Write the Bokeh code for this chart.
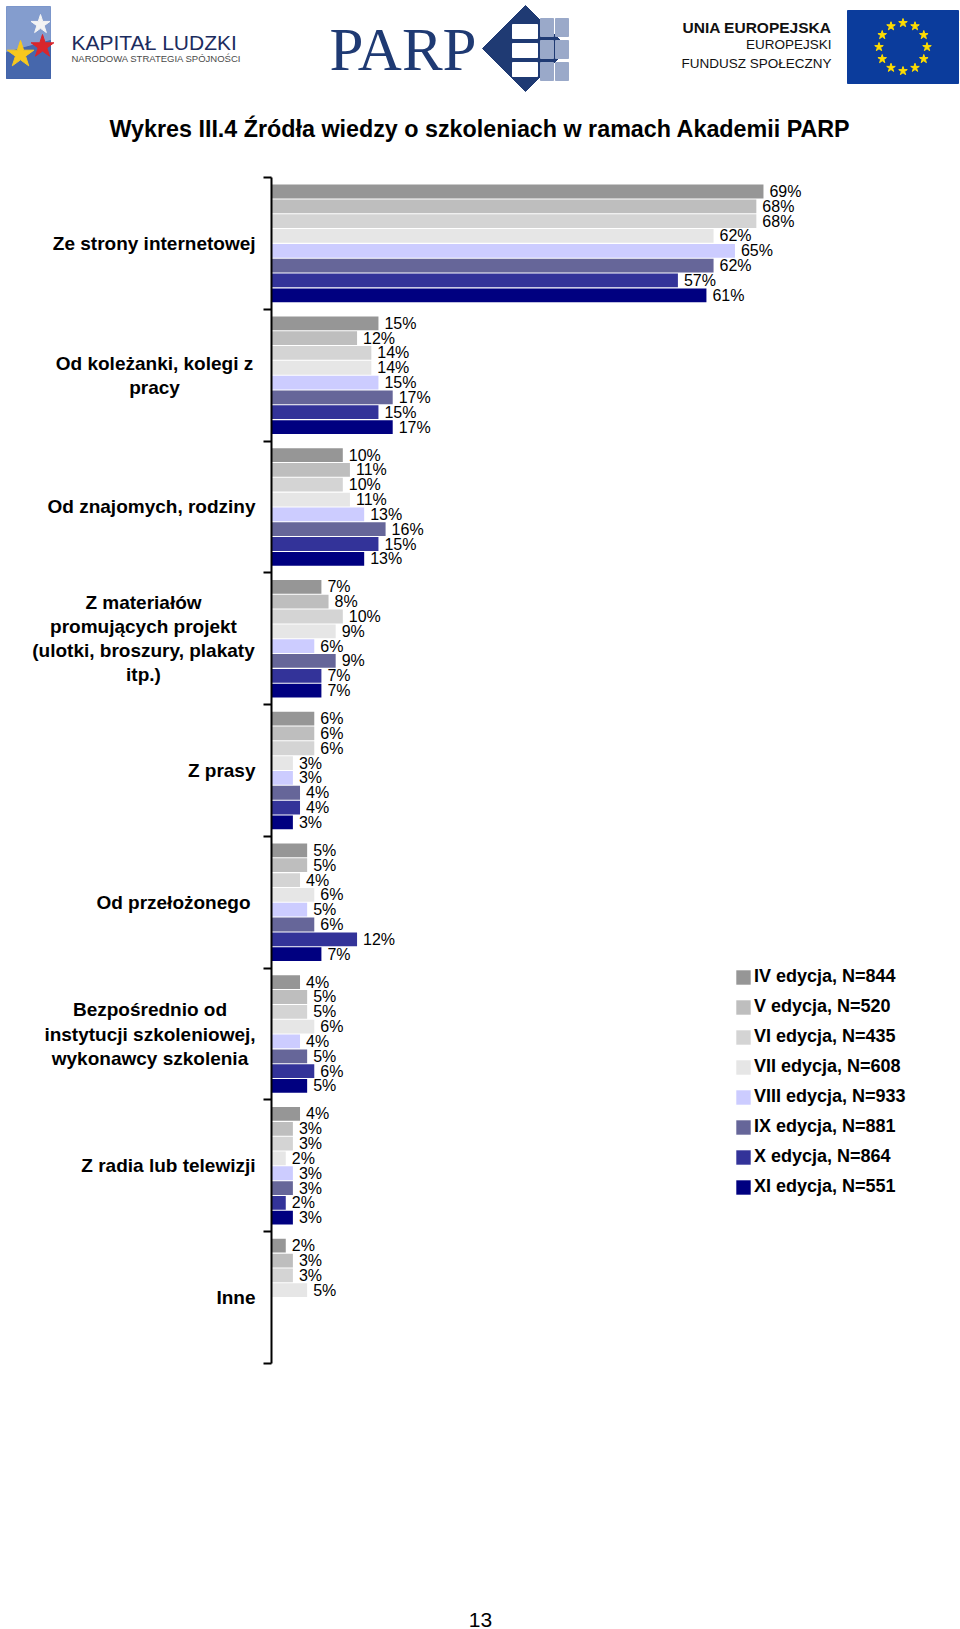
import numpy as np
from bokeh.plotting import figure
from bokeh.models import ColumnDataSource, Range1d, FixedTicker, Legend, LegendItem
from bokeh.layouts import column, row
from bokeh.embed import file_html
from bokeh.resources import INLINE
from bokeh.core.properties import value

# ---------------- data ----------------
categories = [
    "Ze strony internetowej",
    "Od koleżanki, kolegi z\npracy",
    "Od znajomych, rodziny",
    "Z materiałów\npromujących projekt\n(ulotki, broszury, plakaty\nitp.)",
    "Z prasy",
    "Od przełożonego",
    "Bezpośrednio od\ninstytucji szkoleniowej,\nwykonawcy szkolenia",
    "Z radia lub telewizji",
    "Inne",
]
legend_labels = [
    "IV edycja, N=844",
    "V edycja, N=520",
    "VI edycja, N=435",
    "VII edycja, N=608",
    "VIII edycja, N=933",
    "IX edycja, N=881",
    "X edycja, N=864",
    "XI edycja, N=551",
]
colors = ["#969696", "#BEBEBE", "#D4D4D4", "#E6E6E6",
          "#CCCCFF", "#666699", "#333399", "#000080"]

ed_IV   = [69, 15, 10, 7, 6, 5, 4, 4, 2]
ed_V    = [68, 12, 11, 8, 6, 5, 5, 3, 3]
ed_VI   = [68, 14, 10, 10, 6, 4, 5, 3, 3]
ed_VII  = [62, 14, 11, 9, 3, 6, 6, 2, 5]
ed_VIII = [65, 15, 13, 6, 3, 5, 4, 3, None]
ed_IX   = [62, 17, 16, 9, 4, 6, 5, 3, None]
ed_X    = [57, 15, 15, 7, 4, 12, 6, 2, None]
ed_XI   = [61, 17, 13, 7, 3, 7, 5, 3, None]
series = [ed_IV, ed_V, ed_VI, ed_VII, ed_VIII, ed_IX, ed_X, ed_XI]

# category-label placement (screen px from page left; style only)
label_align = ["right", "center", "right", "center", "right", "right", "center", "right", "right"]
label_x_px = [255, 154, 255, 143, 255, 250, 149.5, 255, 255]

FONT = "Liberation Sans"
W = 960

# ---------------- header (logos + title) ----------------
hdr = figure(width=W, height=160, x_range=Range1d(0, 960), y_range=Range1d(160, 0),
             toolbar_location=None, output_backend="svg", min_border=0,
             x_axis_location=None, y_axis_location=None, frame_align=False)
hdr.grid.visible = False
hdr.outline_line_color = None

# Kapitał Ludzki sign
hdr.patch([6, 50, 50, 6], [6, 6, 78, 78], color="#6F8CC6", alpha=0.85)
hdr.patch([6, 50, 50, 6], [52, 40, 78, 78], color="#3F62A8", alpha=0.9)
hdr.scatter([40], [24], marker="star", size=20, color="#F4F4F4")
hdr.scatter([42], [46], marker="star", size=24, color="#D9262C")
hdr.scatter([20], [54], marker="star", size=28, color="#F7C81E")
hdr.text([71], [42], text=["KAPITAŁ LUDZKI"], text_font=value(FONT),
         text_font_size="21px", text_color="#1C2C5E", text_baseline="middle")
hdr.text([71], [58], text=["NARODOWA STRATEGIA SPÓJNOŚCI"], text_font=value(FONT),
         text_font_size="9.5px", text_color="#4A4A4A", text_baseline="middle")

# PARP
hdr.text([329], [49], text=["PARP"], text_font=value("Liberation Serif"),
         text_font_size="61px", text_color="#1F3A73", text_baseline="middle")
hdr.patch([482, 525, 568, 525], [48, 5, 48, 91], color="#1F3A73")
hdr.quad(left=[512, 512, 512], right=[537, 537, 537], top=[24, 43, 62],
         bottom=[38, 57, 76], color="white")
hdr.quad(left=[540, 540, 540, 555, 555, 555], right=[553, 553, 553, 568, 568, 568],
         top=[18, 40, 62, 18, 40, 62], bottom=[36, 58, 80, 36, 58, 80], color="#9AA9C9")

# Unia Europejska
hdr.text([831], [27], text=["UNIA EUROPEJSKA"], text_font=value(FONT), text_font_style="bold",
         text_font_size="15.5px", text_color="#111111", text_baseline="middle", text_align="right")
hdr.text([831], [44], text=["EUROPEJSKI"], text_font=value(FONT),
         text_font_size="13.5px", text_color="#111111", text_baseline="middle", text_align="right")
hdr.text([831], [63], text=["FUNDUSZ SPOŁECZNY"], text_font=value(FONT),
         text_font_size="13.5px", text_color="#111111", text_baseline="middle", text_align="right")
hdr.quad(left=[847], right=[958], top=[10], bottom=[83], color="#0B3C9C")
ang = np.arange(12) * np.pi / 6
hdr.scatter(902.5 + 24 * np.cos(ang), 46.5 + 24 * np.sin(ang), marker="star", size=9, color="#FFDD00")

# Title
hdr.text([109], [128], text=["Wykres III.4 Źródła wiedzy o szkoleniach w ramach Akademii PARP"],
         text_font=value(FONT), text_font_style="bold", text_font_size="23.3px",
         text_color="black", text_baseline="middle")

# ---------------- main chart ----------------
PX_PER_PCT = 7.13
LAB_W = 263
TICK_PAD = 8
MAIN_W = W - LAB_W
H_MAIN = 1230
TOP, BOTTOM = 17, 27
y_rng = Range1d(9, 0)

p = figure(width=MAIN_W, height=H_MAIN,
           x_range=Range1d(0, (MAIN_W - TICK_PAD) / PX_PER_PCT), y_range=y_rng,
           toolbar_location=None, output_backend="svg",
           min_border_left=TICK_PAD, min_border_right=0, min_border_top=TOP, min_border_bottom=BOTTOM,
           x_axis_location=None, frame_align=False)
p.grid.visible = False
p.outline_line_color = None

n_ser = len(series)
group = 0.9
pitch = group / n_ser
items = []
for j, (vals, col, lbl) in enumerate(zip(series, colors, legend_labels)):
    ys, xs, txt = [], [], []
    for i, v in enumerate(vals):
        if v is None:
            continue
        ys.append(i + (1 - group) / 2 + pitch * (j + 0.5))
        xs.append(v)
        txt.append(f"{v}%")
    src = ColumnDataSource(dict(y=ys, right=xs, label=txt))
    r = p.hbar(y="y", left=0, right="right", height=pitch * 0.93, source=src,
               fill_color=col, line_color=None)
    p.text(x="right", y="y", text="label", source=src, x_offset=6,
           text_font=value(FONT), text_font_size="16px", text_color="black",
           text_baseline="middle", text_align="left")
    items.append(LegendItem(label=lbl, renderers=[r]))

# category axis: line + boundary ticks
ax = p.yaxis[0]
ax.ticker = FixedTicker(ticks=[], minor_ticks=list(range(len(categories) + 1)))
ax.major_tick_out = 0
ax.major_tick_in = 0
ax.minor_tick_out = 8
ax.minor_tick_in = 0
ax.minor_tick_line_color = "black"
ax.minor_tick_line_width = 2
ax.axis_line_color = "black"
ax.axis_line_width = 2

legend = Legend(items=items, location=(463, 166), orientation="vertical",
                glyph_width=18, glyph_height=18, label_standoff=2, spacing=9,
                padding=0, margin=0, border_line_color=None, background_fill_alpha=0,
                label_text_font=FONT, label_text_font_style="bold",
                label_text_font_size="18px", label_text_color="black")
p.add_layout(legend)

# ---------------- category labels panel (shares the y scale) ----------------
lab = figure(width=LAB_W, height=H_MAIN, x_range=Range1d(0, LAB_W), y_range=y_rng,
             toolbar_location=None, output_backend="svg",
             min_border_left=0, min_border_right=0, min_border_top=TOP, min_border_bottom=BOTTOM,
             x_axis_location=None, y_axis_location=None, frame_align=False)
lab.grid.visible = False
lab.outline_line_color = None
lab_src = ColumnDataSource(dict(x=label_x_px, y=[i + 0.5 for i in range(len(categories))],
                                text=categories, align=label_align))
lab.text(x="x", y="y", text="text", text_align="align", source=lab_src,
         text_baseline="middle", text_font=value(FONT), text_font_style="bold",
         text_font_size="19px", text_color="black", text_line_height=1.15)

# ---------------- footer (page number) ----------------
ftr = figure(width=W, height=239, x_range=Range1d(0, 960), y_range=Range1d(1629, 1390),
             toolbar_location=None, output_backend="svg", min_border=0,
             x_axis_location=None, y_axis_location=None, frame_align=False)
ftr.grid.visible = False
ftr.outline_line_color = None
ftr.text([480], [1619], text=["13"], text_font=value(FONT), text_font_size="21px",
         text_color="black", text_baseline="middle", text_align="center")

layout = column(hdr, row(lab, p, spacing=0), ftr, spacing=0)
open("out.html", "w").write(file_html(layout, INLINE))
